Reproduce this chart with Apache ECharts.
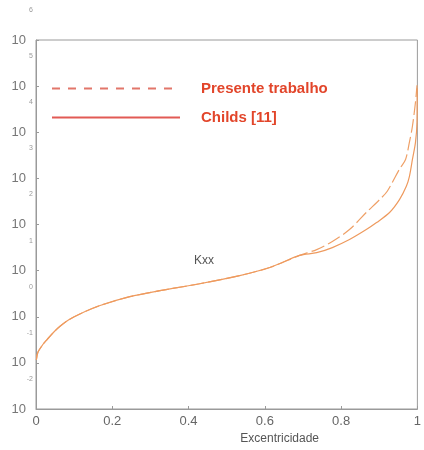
<!DOCTYPE html>
<html>
<head>
<meta charset="utf-8">
<script src="https://cdn.jsdelivr.net/npm/echarts@6/dist/echarts.min.js"></script>
<style>
  html, body { margin: 0; padding: 0; background: #fff; }
  #chart { width: 424px; height: 450px; }
</style>
</head>
<body>
<div id="chart"></div>
<script>
// excentricidade (x) e Kxx (y)
const eccShared = [0.001, 0.005, 0.018, 0.029, 0.045, 0.063, 0.085, 0.115, 0.168, 0.246, 0.325, 0.429, 0.534, 0.613, 0.691];
const kxxShared = [0.117, 0.17, 0.25, 0.32, 0.45, 0.62, 0.85, 1.15, 1.75, 2.72, 3.67, 5.2, 7.8, 11.7, 21.4];

const eccPresente = [0.736, 0.777, 0.822, 0.866, 0.901, 0.921, 0.953, 0.969, 0.979, 0.987, 0.995, 0.999];
const kxxPresente = [28.6, 42.7, 77.6, 182, 347, 525, 1585, 2570, 6030, 13490, 44670, 104700];

const eccChilds = [0.736, 0.777, 0.822, 0.866, 0.893, 0.927, 0.953, 0.971, 0.979, 0.987, 0.995, 0.999, 0.9995];
const kxxChilds = [24.5, 31.6, 47.2, 77.6, 110, 182, 347, 676, 1096, 2570, 6030, 16600, 90000];

const xTicks = ['0', '0.2', '0.4', '0.6', '0.8', '1'];
const seriesNames = ['Presente trabalho', 'Childs [11]'];

function pairs(xs, ys) {
  return xs.map((x, i) => [x, ys[i]]);
}

const presenteData = pairs(eccShared.concat(eccPresente), kxxShared.concat(kxxPresente));
const childsData = pairs(eccShared.concat(eccChilds), kxxShared.concat(kxxChilds));

let myChart = echarts.init(document.getElementById('chart'));

let option = {
  backgroundColor: '#fff',
  animation: false,
  grid: {
    left: 36,
    right: 6,
    top: 40,
    bottom: 41,
    show: true,
    borderColor: '#9a9a9a',
    borderWidth: 1
  },
  legend: {
    orient: 'vertical',
    left: 46,
    top: 76,
    itemGap: 14,
    itemWidth: 128,
    itemHeight: 16,
    itemStyle: { opacity: 0 },
    textStyle: {
      color: '#e2452a',
      fontWeight: 'bold',
      fontSize: 15,
      fontFamily: 'Liberation Sans',
      padding: [0, 0, 0, 16]
    },
    data: [
      { name: seriesNames[0], itemStyle: { opacity: 0 }, lineStyle: { color: '#e2766a', width: 2, type: [8, 8] } },
      { name: seriesNames[1], itemStyle: { opacity: 0 }, lineStyle: { color: '#e25a55', width: 2, type: 'solid' } }
    ]
  },
  xAxis: {
    type: 'value',
    min: 0,
    max: 1,
    interval: 0.2,
    name: 'Excentricidade',
    nameLocation: 'middle',
    nameGap: 22,
    nameTextStyle: {
      color: '#555',
      fontSize: 12,
      fontFamily: 'Liberation Sans',
      padding: [0, 0, 0, 106]
    },
    axisLine: { lineStyle: { color: '#9a9a9a' } },
    axisTick: { inside: true, length: 3, lineStyle: { color: '#9a9a9a' } },
    axisLabel: {
      color: '#666',
      fontSize: 13,
      fontFamily: 'Liberation Sans',
      margin: 6,
      formatter: (v) => xTicks[Math.round(v * 5)]
    },
    splitLine: { show: false }
  },
  yAxis: [
    {
      type: 'log',
      logBase: 10,
      min: 0.01,
      max: 1e6,
      interval: 1,
      axisLine: { show: true, lineStyle: { color: '#9a9a9a' } },
      axisTick: { inside: true, length: 3, lineStyle: { color: '#9a9a9a' } },
      axisLabel: {
        color: '#777',
        fontSize: 13,
        fontFamily: 'Liberation Sans',
        margin: 10,
        formatter: () => '10'
      },
      splitLine: { show: false }
    },
    {
      type: 'log',
      logBase: 10,
      min: 0.01,
      max: 1e6,
      interval: 1,
      position: 'left',
      axisLine: { show: false },
      axisTick: { show: false },
      axisLabel: {
        margin: 3,
        formatter: (v) => '{e|' + Math.round(Math.log10(v)) + '}',
        rich: {
          e: { color: '#999', fontSize: 7, fontFamily: 'Liberation Sans', padding: [0, 0, 60, 0] }
        }
      },
      splitLine: { show: false }
    }
  ],
  series: [
    {
      name: seriesNames[0],
      type: 'line',
      symbol: 'none',
      smooth: 0.3,
      data: presenteData,
      lineStyle: { color: '#efa067', width: 1.2, type: [14, 4] },
      itemStyle: { color: '#efa067' }
    },
    {
      name: seriesNames[1],
      type: 'line',
      symbol: 'none',
      smooth: 0.3,
      data: childsData,
      lineStyle: { color: '#ee9a5e', width: 1.2 },
      itemStyle: { color: '#ee9a5e' }
    }
  ],
  graphic: [
    {
      type: 'text',
      left: 194,
      top: 255,
      style: { text: 'Kxx', fill: '#555', fontSize: 12, fontFamily: 'Liberation Sans' }
    }
  ]
};

myChart.setOption(option);
window.onresize = myChart.resize;
</script>
</body>
</html>
